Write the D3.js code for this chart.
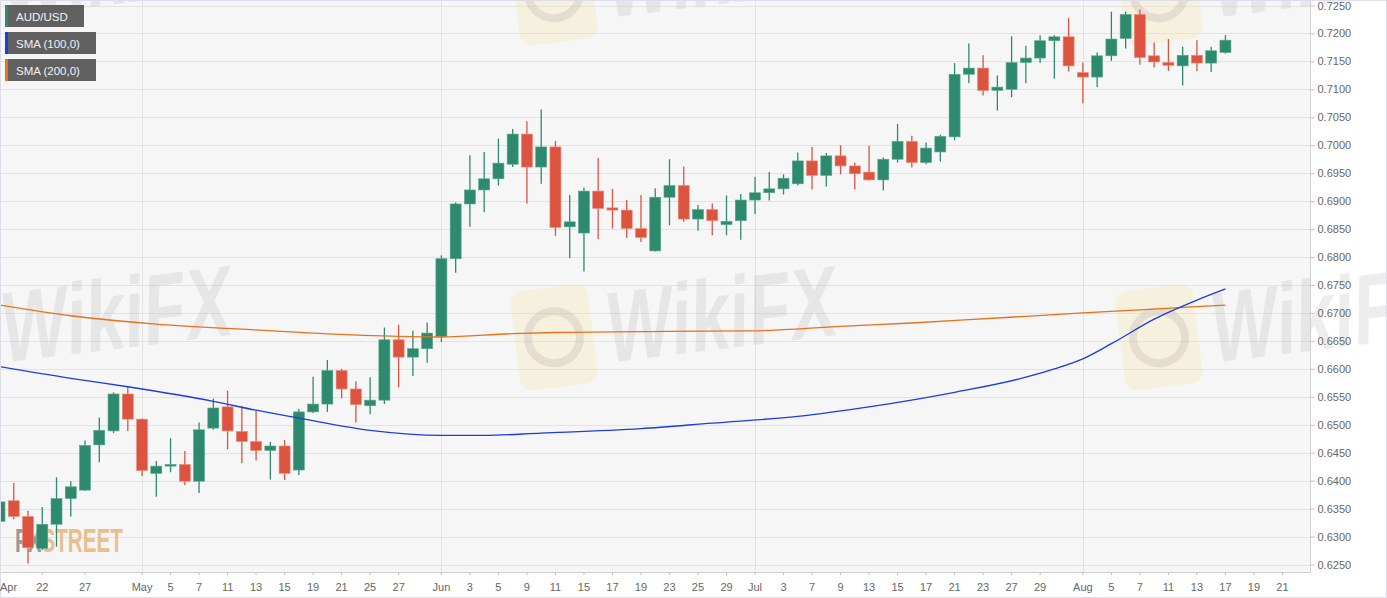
<!DOCTYPE html>
<html>
<head>
<meta charset="utf-8">
<script src="https://cdn.jsdelivr.net/npm/d3@7"></script>
<style>
  html, body { margin: 0; padding: 0; background: #fff; }
  svg { display: block; font-family: "Liberation Sans", Arial, sans-serif; }
</style>
</head>
<body>
<svg id="chart" width="1387" height="598"></svg>
<script>
// ── Data: AUD/USD daily candles, Apr 17 – Aug 17 2020 ──
const dates = [
  "2020-04-17","2020-04-20","2020-04-21","2020-04-22","2020-04-23","2020-04-24","2020-04-27","2020-04-28","2020-04-29","2020-04-30",
  "2020-05-01","2020-05-04","2020-05-05","2020-05-06","2020-05-07","2020-05-08","2020-05-11","2020-05-12","2020-05-13","2020-05-14",
  "2020-05-15","2020-05-18","2020-05-19","2020-05-20","2020-05-21","2020-05-22","2020-05-25","2020-05-26","2020-05-27","2020-05-28",
  "2020-05-29","2020-06-01","2020-06-02","2020-06-03","2020-06-04","2020-06-05","2020-06-08","2020-06-09","2020-06-10","2020-06-11",
  "2020-06-12","2020-06-15","2020-06-16","2020-06-17","2020-06-18","2020-06-19","2020-06-22","2020-06-23","2020-06-24","2020-06-25",
  "2020-06-26","2020-06-29","2020-06-30","2020-07-01","2020-07-02","2020-07-03","2020-07-06","2020-07-07","2020-07-08","2020-07-09",
  "2020-07-10","2020-07-13","2020-07-14","2020-07-15","2020-07-16","2020-07-17","2020-07-20","2020-07-21","2020-07-22","2020-07-23",
  "2020-07-24","2020-07-27","2020-07-28","2020-07-29","2020-07-30","2020-07-31","2020-08-03","2020-08-04","2020-08-05","2020-08-06",
  "2020-08-07","2020-08-10","2020-08-11","2020-08-12","2020-08-13","2020-08-14","2020-08-17"
];
const open = [
  0.6327,0.6364,0.6336,0.6279,0.6322,0.6368,0.6383,0.6464,0.6489,0.6555,
  0.6510,0.6413,0.6426,0.6429,0.6399,0.6494,0.6532,0.6488,0.6470,0.6454,
  0.6462,0.6419,0.6523,0.6537,0.6597,0.6564,0.6534,0.6544,0.6652,0.6621,
  0.6636,0.6658,0.6797,0.6895,0.6920,0.6940,0.6966,0.7020,0.6961,0.6997,
  0.6854,0.6843,0.6918,0.6888,0.6884,0.6851,0.6811,0.6907,0.6928,0.6868,
  0.6885,0.6858,0.6865,0.6902,0.6915,0.6922,0.6931,0.6972,0.6946,0.6981,
  0.6963,0.6952,0.6938,0.6975,0.7007,0.6969,0.6988,0.7015,0.7127,0.7138,
  0.7098,0.7100,0.7148,0.7156,0.7187,0.7194,0.7130,0.7122,0.7160,0.7191,
  0.7234,0.7160,0.7148,0.7142,0.7161,0.7147,0.7166
];
const high = [
  0.6383,0.6396,0.6346,0.6353,0.6406,0.6399,0.6472,0.6513,0.6558,0.6568,
  0.6511,0.6435,0.6476,0.6453,0.6504,0.6547,0.6561,0.6534,0.6525,0.6469,
  0.6473,0.6528,0.6586,0.6616,0.6600,0.6578,0.6585,0.6674,0.6679,0.6668,
  0.6683,0.6803,0.6898,0.6982,0.6988,0.7012,0.7029,0.7043,0.7064,0.7008,
  0.6911,0.6924,0.6977,0.6922,0.6902,0.6911,0.6923,0.6975,0.6962,0.6893,
  0.6896,0.6910,0.6913,0.6943,0.6952,0.6948,0.6987,0.6997,0.6986,0.7000,
  0.6969,0.6999,0.6978,0.7038,0.7017,0.7005,0.7019,0.7147,0.7182,0.7161,
  0.7125,0.7195,0.7178,0.7197,0.7197,0.7228,0.7148,0.7166,0.7239,0.7239,
  0.7243,0.7184,0.7190,0.7176,0.7188,0.7176,0.7197
];
const low = [
  0.6315,0.6331,0.6252,0.6276,0.6282,0.6336,0.6382,0.6433,0.6485,0.6489,
  0.6408,0.6371,0.6415,0.6392,0.6378,0.6491,0.6456,0.6431,0.6436,0.6402,
  0.6401,0.6410,0.6521,0.6523,0.6547,0.6504,0.6519,0.6537,0.6567,0.6587,
  0.6611,0.6648,0.6772,0.6854,0.6880,0.6928,0.6961,0.6896,0.6931,0.6838,
  0.6798,0.6774,0.6832,0.6851,0.6834,0.6827,0.6810,0.6857,0.6863,0.6847,
  0.6839,0.6839,0.6831,0.6877,0.6901,0.6912,0.6928,0.6921,0.6926,0.6948,
  0.6921,0.6937,0.6919,0.6969,0.6960,0.6966,0.6971,0.7009,0.7111,0.7089,
  0.7062,0.7086,0.7111,0.7147,0.7119,0.7132,0.7075,0.7104,0.7151,0.7173,
  0.7144,0.7139,0.7133,0.7107,0.7133,0.7131,0.7164
];
const close = [
  0.6362,0.6336,0.6280,0.6322,0.6368,0.6389,0.6463,0.6490,0.6555,0.6510,
  0.6418,0.6426,0.6429,0.6399,0.6491,0.6530,0.6489,0.6470,0.6454,0.6462,
  0.6413,0.6523,0.6537,0.6597,0.6564,0.6536,0.6544,0.6652,0.6621,0.6636,
  0.6664,0.6797,0.6895,0.6920,0.6940,0.6968,0.7020,0.6961,0.6997,0.6853,
  0.6863,0.6918,0.6887,0.6884,0.6851,0.6835,0.6907,0.6928,0.6868,0.6885,
  0.6865,0.6864,0.6902,0.6915,0.6922,0.6941,0.6972,0.6946,0.6981,0.6963,
  0.6949,0.6938,0.6975,0.7007,0.6969,0.6995,0.7016,0.7127,0.7138,0.7098,
  0.7104,0.7148,0.7156,0.7187,0.7194,0.7142,0.7122,0.7160,0.7190,0.7234,
  0.7157,0.7149,0.7143,0.7161,0.7147,0.7169,0.7188
];

// moving averages, read at selected days
const sma100Dates = ["2020-04-17","2020-04-24","2020-04-30","2020-05-08","2020-05-13","2020-05-18","2020-05-25","2020-06-01",
  "2020-06-04","2020-06-10","2020-06-19","2020-06-26","2020-07-06","2020-07-13","2020-07-21","2020-07-28","2020-07-30",
  "2020-08-03","2020-08-05","2020-08-10","2020-08-13","2020-08-17"];
const sma100 = [0.6604,0.6583,0.6568,0.6542,0.6526,0.6512,0.6490,0.6481,
  0.6481,0.6485,0.6493,0.6503,0.6515,0.6532,0.6558,0.6585,0.6600,
  0.6618,0.6645,0.6689,0.6723,0.6743];
const sma200Dates = ["2020-04-17","2020-04-24","2020-05-04","2020-05-12","2020-05-19","2020-05-27","2020-06-01","2020-06-08",
  "2020-06-11","2020-06-23","2020-07-01","2020-07-09","2020-07-16","2020-07-24","2020-08-03","2020-08-10","2020-08-17"];
const sma200 = [0.6714,0.6695,0.6680,0.6671,0.6664,0.6658,0.6657,0.6663,
  0.6665,0.6667,0.6668,0.6676,0.6682,0.6691,0.6700,0.6707,0.6714];

// axis ticks
const priceTicks = [0.6250,0.6300,0.6350,0.6400,0.6450,0.6500,0.6550,0.6600,0.6650,0.6700,0.6750,
  0.6800,0.6850,0.6900,0.6950,0.7000,0.7050,0.7100,0.7150,0.7200,0.7250];
const tickDates = ["2020-04-17","2020-04-22","2020-04-27","2020-05-01","2020-05-05","2020-05-07","2020-05-11","2020-05-13",
  "2020-05-15","2020-05-19","2020-05-21","2020-05-25","2020-05-27","2020-06-01","2020-06-03","2020-06-05","2020-06-09",
  "2020-06-11","2020-06-15","2020-06-17","2020-06-19","2020-06-23","2020-06-25","2020-06-29","2020-07-01","2020-07-03",
  "2020-07-07","2020-07-09","2020-07-13","2020-07-15","2020-07-17","2020-07-21","2020-07-23","2020-07-27","2020-07-29",
  "2020-08-03","2020-08-05","2020-08-07","2020-08-11","2020-08-13","2020-08-17","2020-08-19","2020-08-21"];
const tickLabels = ["Apr","22","27","May","5","7","11","13","15","19","21","25","27","Jun","3","5","9","11","15","17","19",
  "23","25","29","Jul","3","7","9","13","15","17","21","23","27","29","Aug","5","7","11","13","17","19","21"];
const monthStarts = ["2020-05-01","2020-06-01","2020-07-01","2020-08-03"];

const legendItems = [
  { label: "AUD/USD",     color: "#2e8a6e", w: 79 },
  { label: "SMA (100,0)", color: "#1a3de0", w: 91 },
  { label: "SMA (200,0)", color: "#e8711c", w: 91 },
];

// ── Layout ─────────────────────────────────────────────────────────────────
const VW = 1387, VH = 598;
const PW = 1310.5, PH = 572;           // plot area (price axis on the right)
const STEP = 14.255;                   // px per trading day
const GREEN = "#2e8a6e", RED = "#dc543f";

const svg = d3.select("#chart");
const fmt = d3.utcFormat("%Y-%m-%d");

// trading days (weekdays) on the x axis, running past the last candle
const days = d3.utcDays(new Date(Date.UTC(2020, 3, 17)), new Date(Date.UTC(2020, 7, 29)))
  .filter(d => d.getUTCDay() % 6 !== 0).map(fmt);

const x = d3.scaleBand().domain(days)
  .range([-0.5 - STEP / 2, -0.5 - STEP / 2 + days.length * STEP]).padding(0);
const cx = d => x(d) + x.bandwidth() / 2;
const y = d3.scaleLinear().domain([0.625, 0.725]).range([564.5, 5.5]);

// background
svg.append("rect").attr("width", VW).attr("height", VH).attr("fill", "#fff");
svg.append("rect").attr("x", 0).attr("y", 0).attr("width", PW).attr("height", PH).attr("fill", "#f6f6f6");

svg.append("clipPath").attr("id", "plot-clip")
  .append("rect").attr("x", 0).attr("y", 0).attr("width", PW).attr("height", PH);

// Grid
const grid = svg.append("g").attr("shape-rendering", "crispEdges");
grid.selectAll("line.h").data(priceTicks).join("line").attr("class", "h")
  .attr("x1", 0).attr("x2", PW)
  .attr("y1", d => Math.round(y(d)) + 0.5).attr("y2", d => Math.round(y(d)) + 0.5)
  .attr("stroke", "#e3e3e3");
grid.selectAll("line.v").data(monthStarts).join("line").attr("class", "v")
  .attr("x1", d => Math.round(cx(d)) + 0.5).attr("x2", d => Math.round(cx(d)) + 0.5)
  .attr("y1", 0).attr("y2", PH)
  .attr("stroke", "#e3e3e3");

// Watermarks (WikiFX pattern + FXStreet logo)
const wm = svg.append("g").attr("pointer-events", "none");
[[-90, -5], [515, -5], [1120, -5], [-90, 340], [515, 340], [1120, 340]].forEach(([lx, ly]) => {
  const g = wm.append("g").attr("transform", `translate(${lx},${ly}) rotate(-7)`);
  g.append("rect").attr("x", 0).attr("y", -48).attr("width", 78).attr("height", 100).attr("rx", 12)
    .attr("fill", "rgba(248,222,150,0.25)");
  g.append("circle").attr("cx", 39).attr("cy", 2).attr("r", 26)
    .attr("fill", "none").attr("stroke", "rgba(170,160,160,0.22)").attr("stroke-width", 8);
  g.append("text").attr("x", 92).attr("y", 34).attr("textLength", 232).attr("lengthAdjust", "spacingAndGlyphs")
    .attr("font-size", 100).attr("font-weight", "bold").attr("font-style", "italic")
    .attr("fill", "rgba(185,178,178,0.24)").text("WikiFX");
});

const logo = svg.append("text").attr("opacity", 0.85)
  .attr("x", 15).attr("y", 552).attr("textLength", 108).attr("lengthAdjust", "spacingAndGlyphs")
  .attr("font-size", 34).attr("font-weight", "bold");
logo.append("tspan").attr("fill", "#8b8b8b").text("FX");
logo.append("tspan").attr("fill", "#e6b77a").text("STREET");

// Candles
const plot = svg.append("g").attr("clip-path", "url(#plot-clip)");
const candles = dates.map((d, i) => ({ date: d, o: open[i], h: high[i], l: low[i], c: close[i] }));

const cg = plot.append("g").selectAll("g.candle").data(candles).join("g").attr("class", "candle");
cg.append("line")
  .attr("x1", d => cx(d.date)).attr("x2", d => cx(d.date))
  .attr("y1", d => y(d.h)).attr("y2", d => y(d.l))
  .attr("stroke", d => d.c >= d.o ? GREEN : RED).attr("stroke-width", 1.3);
cg.append("rect")
  .attr("x", d => cx(d.date) - 5.5).attr("width", 11)
  .attr("y", d => y(Math.max(d.o, d.c)))
  .attr("height", d => Math.max(1.5, Math.abs(y(d.o) - y(d.c))))
  .attr("fill", d => d.c >= d.o ? GREEN : RED)
  .attr("stroke", d => d.c >= d.o ? "#5aa88e" : "#ee8a78").attr("stroke-width", 0.6);

// SMA lines
const line = d3.line().x(d => cx(d.date)).y(d => y(d.v)).curve(d3.curveMonotoneX);
plot.append("path")
  .attr("d", line(sma200Dates.map((d, i) => ({ date: d, v: sma200[i] }))))
  .attr("fill", "none").attr("stroke", "#e8711c").attr("stroke-width", 1.3);
plot.append("path")
  .attr("d", line(sma100Dates.map((d, i) => ({ date: d, v: sma100[i] }))))
  .attr("fill", "none").attr("stroke", "#1a3de0").attr("stroke-width", 1.3);

// Frame
svg.append("line").attr("x1", PW).attr("x2", PW).attr("y1", 0).attr("y2", PH)
  .attr("stroke", "#cfcfcf").attr("shape-rendering", "crispEdges");
svg.append("line").attr("x1", 0).attr("x2", PW).attr("y1", PH + 0.5).attr("y2", PH + 0.5)
  .attr("stroke", "#cfcfcf").attr("shape-rendering", "crispEdges");
svg.append("rect").attr("x", 0.5).attr("y", 0.5).attr("width", VW - 1).attr("height", VH - 1)
  .attr("fill", "none").attr("stroke", "#dcdcea");

// Axes
const yAxis = svg.append("g").attr("transform", `translate(${PW},0)`)
  .call(d3.axisRight(y).tickValues(priceTicks).tickFormat(d3.format(".4f")).tickSize(4).tickPadding(3));
yAxis.select(".domain").remove();
yAxis.selectAll("line").attr("stroke", "#bdbdbd");
yAxis.selectAll("text").attr("fill", "#666").attr("font-size", 11)
  .attr("font-family", "'Liberation Sans', Arial, sans-serif");

const xAxis = svg.append("g").attr("transform", `translate(0,${PH})`)
  .call(d3.axisBottom(x).tickValues(tickDates).tickFormat((d, i) => tickLabels[i]).tickSize(3).tickPadding(8));
xAxis.select(".domain").remove();
xAxis.selectAll("line").attr("stroke", "#bdbdbd");
xAxis.selectAll("text").attr("fill", "#666").attr("font-size", 11)
  .attr("font-family", "'Liberation Sans', Arial, sans-serif");
// keep the first label inside the picture
xAxis.selectAll(".tick").each(function(d) {
  const t = d3.select(this).select("text");
  const w = t.node().getComputedTextLength();
  if (cx(d) - w / 2 < 0) t.attr("text-anchor", "start").attr("x", -cx(d));
});

// Legend
const leg = svg.append("g");
legendItems.forEach((it, i) => {
  const row = leg.append("g").attr("transform", `translate(5,${5 + i * 27})`);
  row.append("rect").attr("width", it.w).attr("height", 22).attr("fill", "#606060");
  row.append("rect").attr("width", 3).attr("height", 22).attr("fill", it.color);
  row.append("text").attr("x", 11).attr("y", 15.5).attr("font-size", 11.5)
    .attr("fill", "#f2f2f2").text(it.label);
});
</script>
</body>
</html>
